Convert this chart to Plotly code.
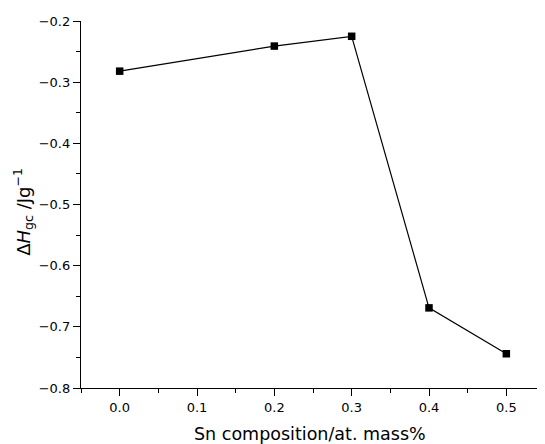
import plotly.graph_objects as go

sn = [0.0, 0.2, 0.3, 0.4, 0.5]
dH = [-0.282, -0.241, -0.225, -0.669, -0.744]

x_ticks = [0, 0.1, 0.2, 0.3, 0.4, 0.5]
x_labels = ["0.0", "0.1", "0.2", "0.3", "0.4", "0.5"]
y_ticks = [-0.8, -0.7, -0.6, -0.5, -0.4, -0.3, -0.2]
y_labels = ["\u22120.8", "\u22120.7", "\u22120.6", "\u22120.5", "\u22120.4", "\u22120.3", "\u22120.2"]

fig = go.Figure()
fig.add_trace(go.Scatter(
    x=sn, y=dH, mode="lines+markers",
    line=dict(color="black", width=1.2),
    marker=dict(symbol="square", size=7.5, color="black"),
    showlegend=False,
))

fam = "DejaVu Sans, Arial, sans-serif"
font = dict(family=fam, color="black")
# page body has an 8px margin, so the figure is offset by 8px
fig.update_layout(
    width=537, height=436,
    margin=dict(l=73, r=0, t=13, b=56, autoexpand=False),
    paper_bgcolor="white", plot_bgcolor="white",
    font=dict(size=13, **font),
)
fig.update_xaxes(
    range=[-0.05, 0.55], tickvals=x_ticks, ticktext=x_labels,
    showline=True, linecolor="black", linewidth=1.3, mirror=False,
    showgrid=False, zeroline=False, automargin=False,
    ticks="outside", ticklen=7, tickwidth=1, tickcolor="black",
    minor=dict(ticks="outside", dtick=0.05, tick0=0, ticklen=4, tickcolor="black", showgrid=False),
    tickfont=dict(size=13, **font),
)
fig.update_yaxes(
    range=[-0.8, -0.2], tickvals=y_ticks, ticktext=y_labels,
    showline=True, linecolor="black", linewidth=1.3, mirror=False,
    showgrid=False, zeroline=False, automargin=False,
    ticks="outside", ticklen=7, tickwidth=1, tickcolor="black",
    minor=dict(ticks="outside", dtick=0.05, tick0=-0.8, ticklen=4, tickcolor="black", showgrid=False),
    tickfont=dict(size=13, **font),
)
fig.add_annotation(
    text="Sn composition/at. mass%", xref="paper", yref="paper",
    x=0.4935, y=0, xanchor="center", yanchor="middle", yshift=-46,
    showarrow=False, font=dict(size=17.5, **font),
)
fig.add_annotation(
    text="\u0394<i>H</i><sub>gc</sub> /Jg<sup>\u22121</sup>", xref="paper", yref="paper",
    x=0, y=0.48, xanchor="center", yanchor="middle", xshift=-58,
    textangle=-90, showarrow=False, font=dict(size=18, **font),
)
fig.write_html("out.html")
